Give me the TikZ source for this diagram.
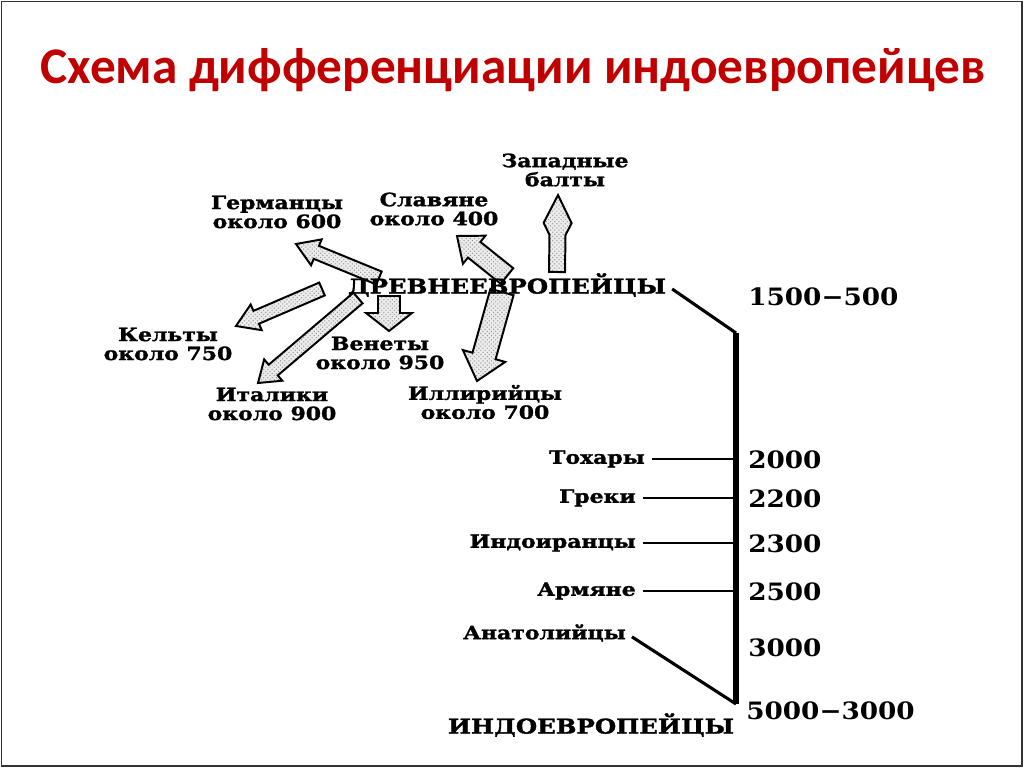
\documentclass[tikz,border=0pt]{standalone}
\usepackage{fontspec}
\usepackage{tikz}
\usetikzlibrary{calc,patterns}
\setmainfont{DejaVu Serif}
\newfontfamily\titlefont{Carlito}
\newfontfamily\labelfont{DejaVu Serif}[FakeStretch=1.2, FakeBold=1.5]
\newfontfamily\yearfont{DejaVu Serif}[FakeStretch=1.1]
\definecolor{titlered}{HTML}{C00000}
\def\pxlen{0.025cm}
% block arrow: tail, tip, shaft half width, head half width, head length, neck (all in px)
\newcommand{\blockarrow}[6]{%
  \coordinate (ba-h) at ($(#2)!#5*\pxlen!(#1)$);
  \coordinate (ba-n) at ($(#2)!#5*\pxlen+#6*\pxlen!(#1)$);
  \filldraw[blockarr] ($(#1)!#3*\pxlen!90:(#2)$) -- ($(ba-n)!#3*\pxlen!90:(#2)$)
    -- ($(ba-h)!#4*\pxlen!90:(#2)$) -- (#2) -- ($(ba-h)!#4*\pxlen!-90:(#2)$)
    -- ($(ba-n)!#3*\pxlen!-90:(#2)$) -- ($(#1)!#3*\pxlen!-90:(#2)$) -- cycle;
}
\tikzset{
  people/.style={font=\labelfont\bfseries\fontsize{13}{13.5}\selectfont, align=center, inner sep=0pt},
  bigpeople/.style={font=\labelfont\bfseries\fontsize{14.5}{15}\selectfont, inner sep=0pt},
  yearlbl/.style={font=\yearfont\bfseries\fontsize{17}{18}\selectfont, anchor=west, inner sep=0pt},
  blockarr/.style={draw=black, line width=1.4pt, line join=miter,
    preaction={fill=gray!15}, pattern=crosshatch dots, pattern color=gray!80},
  tick/.style={line width=1.9pt, shorten <=5pt},
  trunk/.style={line width=3.6pt},
}

\begin{document}
\begin{tikzpicture}[x=0.025cm,y=-0.025cm]
  \useasboundingbox (0,0) rectangle (1024,768);
  \draw[black!80, line width=1.2pt] (1.5,1.5) rectangle (1022,766);

  \node[font=\titlefont\bfseries\fontsize{36.5}{44}\selectfont, text=titlered] (title) at (513,70)
    {Схема дифференциации индоевропейцев};

  % arrows out of the old europeans
  \coordinate (germ-t) at (379,278); \coordinate (germ-h) at (296,244);
  \coordinate (kelt-t) at (322,289); \coordinate (kelt-h) at (236,326);
  \coordinate (ital-t) at (358,298); \coordinate (ital-h) at (258,383);
  \coordinate (venet-t) at (389,296); \coordinate (venet-h) at (389,331);
  \coordinate (slav-t) at (507,276); \coordinate (slav-h) at (457,236);
  \coordinate (illyr-t) at (502,292); \coordinate (illyr-h) at (477,381);
  \coordinate (balt-t) at (557,272); \coordinate (balt-h) at (558,195);
  \blockarrow{germ-t}{germ-h}{7}{14}{22}{0}
  \blockarrow{kelt-t}{kelt-h}{7}{14}{22}{0}
  \blockarrow{ital-t}{ital-h}{7}{14}{20}{0}
  \blockarrow{venet-t}{venet-h}{11}{23}{18}{0}
  \blockarrow{slav-t}{slav-h}{10}{18}{22}{0}
  \blockarrow{illyr-t}{illyr-h}{12}{22}{26}{0}
  \blockarrow{balt-t}{balt-h}{8}{14}{28}{12}

  % peoples of the upper branch
  \node[bigpeople] (drev) at (507,285) {ДРЕВНЕЕВРОПЕЙЦЫ};
  \node[people] (balt) at (565,170) {Западные\\балты};
  \node[people] (germ) at (277,212) {Германцы\\около 600};
  \node[people] (slav) at (434,209) {Славяне\\около 400};
  \node[people] (kelt) at (168,344) {Кельты\\около 750};
  \node[people] (venet) at (380,353) {Венеты\\около 950};
  \node[people] (ital) at (272,404) {Италики\\около 900};
  \node[people] (illyr) at (485,402) {Иллирийцы\\около 700};

  % time line
  \coordinate (tl-top) at (736,333);
  \coordinate (tl-bot) at (736,704);
  \draw[trunk] (tl-top) -- (tl-bot);
  \draw[line width=2.2pt, shorten <=5pt] (drev.east) -- (tl-top);

  \node[people, anchor=east] (toch) at (645,459) {Тохары};
  \node[people, anchor=east] (grek) at (636,498) {Греки};
  \node[people, anchor=east] (indoir) at (636,543) {Индоиранцы};
  \node[people, anchor=east] (arm) at (636,591) {Армяне};
  \node[people, anchor=east] (anat) at (626,633) {Анатолийцы};
  \node[bigpeople] (indoe) at (591,725) {ИНДОЕВРОПЕЙЦЫ};

  \draw[tick] (toch.east) -- (toch.east -| tl-top);
  \draw[tick] (grek.east) -- (grek.east -| tl-top);
  \draw[tick] (indoir.east) -- (indoir.east -| tl-top);
  \draw[tick] (arm.east) -- (arm.east -| tl-top);
  \draw[line width=2.2pt, shorten <=5pt] (anat.east) -- (tl-bot);

  % dates
  \node[yearlbl] (y1500) at (748,297) {1500−500};
  \node[yearlbl] (y2000) at (748,460) {2000};
  \node[yearlbl] (y2200) at (748,499) {2200};
  \node[yearlbl] (y2300) at (748,544) {2300};
  \node[yearlbl] (y2500) at (748,592) {2500};
  \node[yearlbl] (y3000) at (748,648) {3000};
  \node[yearlbl] (y5000) at (746,711) {5000−3000};
\end{tikzpicture}
\end{document}
